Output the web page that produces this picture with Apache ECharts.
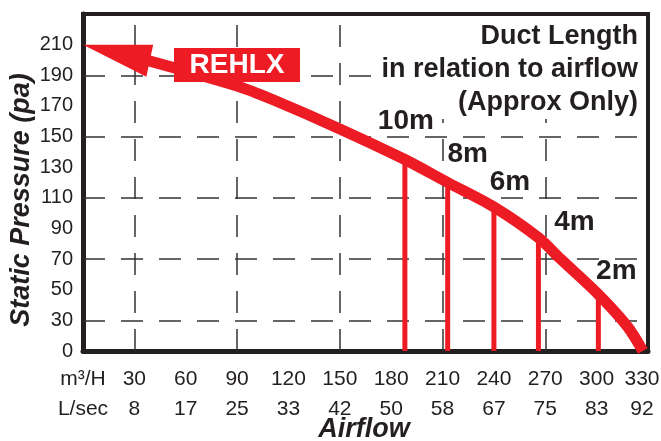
<!DOCTYPE html>
<html>
<head>
<meta charset="utf-8">
<script src="https://cdn.jsdelivr.net/npm/echarts@6/dist/echarts.min.js"></script>
<style>
html, body { margin: 0; padding: 0; background: #fff; }
#main { width: 661px; height: 441px; }
</style>
</head>
<body>
<div id="main"></div>
<script>
// 刻度标签
var flowM3hTicks = [30, 60, 90, 120, 150, 180, 210, 240, 270, 300, 330];
var flowLsTicks = [8, 17, 25, 33, 42, 50, 58, 67, 75, 83, 92];

// 虚线网格位置
var gridFlow = [30, 90, 150, 210, 270];
var gridPressure = [30, 70, 110, 150, 190];

// REHLX 曲线
var curveFlow = [30, 90, 111, 150, 188, 213, 240, 266, 279, 301, 318, 327];
var curvePressure = [202, 183, 174, 155, 135, 120, 104, 84, 70, 47, 26, 10];
var arrowHead = [[0, 210], [41, 210], [37, 189]];

// 风管长度
var ductFlow = [188, 213, 240, 266, 301];
var ductPressure = [135, 120, 104, 84, 47];
var ductLabels = ['10m', '8m', '6m', '4m', '2m'];

var red = '#ed1c24';
var ink = '#231f20';
var font = 'Liberation Sans';
var ductLabelOffsets = [[1, -38], [20, -28], [16, -25], [36, -15], [18, -23]];

var myChart = echarts.init(document.getElementById('main'));

var option = {
    animation: false,
    textStyle: { fontFamily: font },
    grid: {
        left: 83, right: 13, top: 14, bottom: 90,
        containLabel: false, outerBoundsMode: 'none',
        show: true, borderColor: ink, borderWidth: 4
    },
    xAxis: {
        type: 'value',
        min: 0, max: 330, interval: 30,
        splitLine: { show: false },
        axisTick: { show: false },
        axisLine: { lineStyle: { color: ink, width: 5 } },
        axisLabel: {
            color: ink, fontSize: 21, lineHeight: 30, margin: 13,
            showMaxLabel: true,
            formatter: function (v) {
                if (v === 0) return 'm³/H\nL/sec';
                var i = flowM3hTicks.indexOf(v);
                if (i < 0) return '';
                if (v === 330) return '{r|' + flowM3hTicks[i] + '}\n{r|' + flowLsTicks[i] + '}';
                return flowM3hTicks[i] + '\n' + flowLsTicks[i];
            },
            rich: {
                r: { fontSize: 21, lineHeight: 30, color: ink, padding: [0, 12, 0, 0] }
            }
        }
    },
    yAxis: {
        type: 'value',
        min: 10, max: 230, interval: 20,
        splitLine: { show: false },
        axisTick: { show: false },
        axisLine: { lineStyle: { color: ink, width: 5 } },
        axisLabel: {
            color: ink, fontSize: 20, margin: 10,
            formatter: function (v) {
                if (v === 10) return '0';
                if (v === 230) return '';
                return v;
            }
        }
    },
    graphic: [
        {
            type: 'text', x: 638, y: 20, z: 1.5,
            style: {
                text: 'Duct Length\nin relation to airflow\n(Approx Only)',
                font: 'bold 27px ' + font, fill: ink,
                textAlign: 'right', textVerticalAlign: 'top', lineHeight: 33,
                backgroundColor: '#fff', padding: [0, 0, 0, 10]
            }
        },
        {
            type: 'group', z: 10,
            children: [
                { type: 'rect', z: 10, shape: { x: 174, y: 48, width: 126, height: 34 }, style: { fill: red } },
                {
                    type: 'text', x: 237, y: 65, z: 11,
                    style: {
                        text: 'REHLX', font: 'bold 28px ' + font, fill: '#fff',
                        textAlign: 'center', textVerticalAlign: 'middle'
                    }
                }
            ]
        },
        {
            type: 'text', x: 22, y: 200, rotation: Math.PI / 2,
            style: {
                text: 'Static Pressure (pa)', font: 'italic bold 27px ' + font, fill: ink,
                textAlign: 'center', textVerticalAlign: 'middle'
            }
        },
        {
            type: 'text', x: 364, y: 430,
            style: {
                text: 'Airflow', font: 'italic bold 27px ' + font, fill: ink,
                textAlign: 'center', textVerticalAlign: 'middle'
            }
        }
    ],
    series: [
        {
            name: 'duct',
            type: 'bar',
            barWidth: 5,
            z: 2,
            itemStyle: { color: red },
            data: ductFlow.map(function (x, i) {
                return {
                    value: [x, ductPressure[i]],
                    label: { offset: ductLabelOffsets[i] }
                };
            }),
            label: {
                show: true, position: 'top', distance: 0,
                align: 'center', verticalAlign: 'middle',
                fontSize: 28, fontWeight: 'bold', color: ink,
                formatter: function (p) { return ductLabels[p.dataIndex]; }
            },
            markLine: {
                silent: true, symbol: 'none', z: 1,
                label: { show: false },
                lineStyle: { color: '#333', width: 1.5, type: [22, 16] },
                data: gridFlow.map(function (x) { return { xAxis: x }; })
                    .concat(gridPressure.map(function (y) { return { yAxis: y }; }))
            }
        },
        {
            name: 'REHLX',
            type: 'line',
            z: 3,
            smooth: 0.3,
            showSymbol: false,
            lineStyle: { color: red, width: 11, cap: 'butt' },
            data: curveFlow.map(function (x, i) { return [x, curvePressure[i]]; })
        },
        {
            name: 'arrow',
            type: 'custom',
            z: 3,
            data: [arrowHead[0]],
            renderItem: function (params, api) {
                var pts = arrowHead.map(function (p) { return api.coord(p); });
                return { type: 'polygon', shape: { points: pts }, style: { fill: red } };
            }
        }
    ]
};

myChart.setOption(option);
</script>
</body>
</html>
